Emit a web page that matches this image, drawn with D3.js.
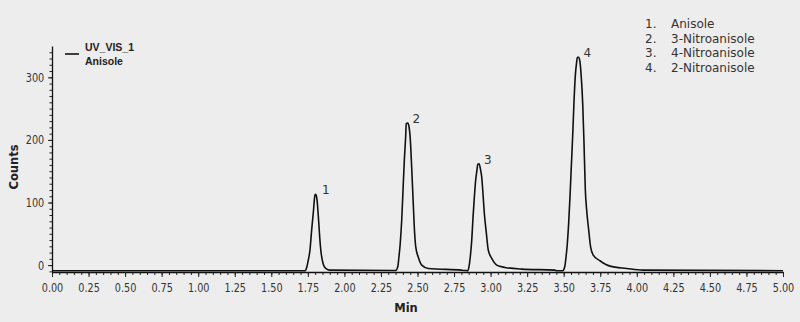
<!DOCTYPE html>
<html>
<head>
<meta charset="utf-8">
<script src="https://cdn.jsdelivr.net/npm/d3@7/dist/d3.min.js"></script>
<style>
    body { margin: 0; background: #ededed; }
    svg { display: block; }
</style>
</head>
<body>
<div id="chart"></div>
<script>
// chromatogram trace (time in min, signal in counts)
let traceTime = [
    0.000, 1.700, 1.730, 1.742, 1.753, 1.765, 1.776, 1.787, 1.799, 1.804,
    1.813, 1.822, 1.831, 1.840, 1.854, 1.872, 1.902, 2.330,
    2.351, 2.365, 2.373, 2.382, 2.392, 2.401, 2.410, 2.419, 2.423,
    2.433, 2.442, 2.451, 2.460, 2.469, 2.478, 2.488, 2.505, 2.529, 2.574, 2.800,
    2.825, 2.843, 2.852, 2.861, 2.871, 2.880, 2.889, 2.898, 2.907, 2.912,
    2.921, 2.930, 2.939, 2.948, 2.957, 2.971, 2.984, 3.008, 3.042, 3.099, 3.213, 3.440,
    3.452, 3.493, 3.507, 3.516, 3.525, 3.534, 3.543, 3.552, 3.562, 3.571, 3.579, 3.589, 3.593,
    3.602, 3.611, 3.620, 3.630, 3.639, 3.648, 3.657, 3.671, 3.684, 3.702, 3.748, 3.817, 3.931,
    4.040, 5.000
];
let traceCounts = [
    -9, -9, -9, -3.7, 8, 25, 56, 83, 112, 113,
    104, 77, 45, 21, 2.7, -5.3, -8, -8.5,
    -8.5, -2.7, 13, 35, 72, 120, 168, 205, 226, 227,
    221, 200, 157, 109, 61, 29, 13, 0, -5.3, -8, -8.5,
    -9, -2.7, 13, 40, 77, 109, 136, 152, 161, 162,
    154, 141, 114, 83, 51, 24, 10.7, 0, -3.7, -6.4, -8, -9,
    -9, -2.7, 13, 35, 67, 109, 157, 210, 264, 301, 325, 332, 332,
    325, 301, 258, 194, 120, 88, 56, 29, 16, 7, -1.6, -5.3, -8,
    -9, -9
];

// peak numbers and their apexes
let peakNames = ["1", "2", "3", "4"];
let peakTimes = [1.804, 2.423, 2.912, 3.593];
let peakCounts = [113, 227, 162, 332];

// compound list in the corner
let compounds = ["Anisole", "3-Nitroanisole", "4-Nitroanisole", "2-Nitroanisole"];

// axis ticks
let xTicks = [0, 0.25, 0.5, 0.75, 1, 1.25, 1.5, 1.75, 2, 2.25, 2.5, 2.75, 3, 3.25, 3.5, 3.75, 4, 4.25, 4.5, 4.75, 5];
let yTicks = [0, 100, 200, 300];

let width = 800, height = 322;
let svg = d3.select("#chart").append("svg")
    .attr("width", width)
    .attr("height", height);

svg.append("rect")
    .attr("width", width)
    .attr("height", height)
    .style("fill", "#ededed");

let xScale = d3.scaleLinear().domain([0, 5]).range([52, 783]);
let yScale = d3.scaleLinear().domain([-11, 350]).range([272, 46]);

let tickFont = "'DejaVu Sans Condensed', 'DejaVu Sans', sans-serif";

// minor ticks first (drawn by axes with no labels)
let xMinor = d3.range(0, 5.001, 0.05);
svg.append("g")
    .attr("transform", "translate(0,272)")
    .call(d3.axisBottom(xScale).tickValues(xMinor).tickSize(3).tickFormat(""))
    .call(g => g.select(".domain").remove())
    .selectAll("line").style("stroke", "#222");

let yMinor = d3.range(-10, 350, 10);
svg.append("g")
    .attr("transform", "translate(52,0)")
    .call(d3.axisLeft(yScale).tickValues(yMinor).tickSize(2.5).tickFormat(""))
    .call(g => g.select(".domain").remove())
    .selectAll("line").style("stroke", "#222");

// main axes
let xAxis = svg.append("g")
    .attr("transform", "translate(0,272)")
    .call(d3.axisBottom(xScale).tickValues(xTicks).tickSize(5).tickSizeOuter(0).tickPadding(6)
        .tickFormat(d3.format(".2f")));
xAxis.select(".domain").style("stroke", "#111").style("stroke-width", 1.3);
xAxis.selectAll("line").style("stroke", "#222");
xAxis.selectAll("text")
    .style("font-family", tickFont)
    .style("font-size", "12.5px")
    .style("fill", "#333")
    .attr("transform", "scale(0.86,1)");

let yAxis = svg.append("g")
    .attr("transform", "translate(52,0)")
    .call(d3.axisLeft(yScale).tickValues(yTicks).tickSize(4).tickSizeOuter(0).tickPadding(5));
yAxis.select(".domain").style("stroke", "#111").style("stroke-width", 1.3);
yAxis.selectAll("line").style("stroke", "#222");
yAxis.selectAll("text")
    .style("font-family", tickFont)
    .style("font-size", "12.5px")
    .style("fill", "#333")
    .attr("transform", "scale(0.86,1)");

// axis titles
svg.append("text")
    .text("Min")
    .attr("x", 406)
    .attr("y", 312)
    .attr("text-anchor", "middle")
    .style("font-family", "'DejaVu Sans', sans-serif")
    .style("font-weight", "bold")
    .style("font-size", "11.5px")
    .style("fill", "#222");

svg.append("text")
    .text("Counts")
    .attr("text-anchor", "middle")
    .attr("transform", "translate(18,167) rotate(-90)")
    .style("font-family", "'DejaVu Sans', sans-serif")
    .style("font-weight", "bold")
    .style("font-size", "11.5px")
    .style("fill", "#222");

// the trace
let trace = traceTime.map((t, i) => [t, traceCounts[i]]);
let line = d3.line()
    .x(d => xScale(d[0]))
    .y(d => yScale(d[1]))
    .curve(d3.curveMonotoneX);

svg.append("path")
    .datum(trace)
    .attr("d", line)
    .style("fill", "none")
    .style("stroke", "#111")
    .style("stroke-width", 1.6)
    .style("stroke-linejoin", "round");

// peak numbers
svg.selectAll(".peakLabel")
    .data(peakNames)
    .enter()
    .append("text")
    .attr("class", "peakLabel")
    .text(d => d)
    .attr("x", (d, i) => xScale(peakTimes[i]) + 10)
    .attr("y", (d, i) => yScale(peakCounts[i]))
    .attr("text-anchor", "middle")
    .style("font-family", "'DejaVu Sans', sans-serif")
    .style("font-size", "12px")
    .style("fill", "#333");

// trace legend, top left
svg.append("line")
    .attr("x1", 65).attr("x2", 79)
    .attr("y1", 54).attr("y2", 54)
    .style("stroke", "#111")
    .style("stroke-width", 1.6);
svg.append("text")
    .text("UV_VIS_1")
    .attr("x", 85).attr("y", 51)
    .style("font-family", "'Liberation Sans', Arial, sans-serif")
    .style("font-weight", "bold")
    .style("font-size", "10.5px")
    .style("fill", "#222");
svg.append("text")
    .text("Anisole")
    .attr("x", 85).attr("y", 64.5)
    .style("font-family", "'Liberation Sans', Arial, sans-serif")
    .style("font-weight", "bold")
    .style("font-size", "10.5px")
    .style("fill", "#222");

// compound list, top right
let list = svg.selectAll(".compound")
    .data(compounds)
    .enter()
    .append("g")
    .attr("class", "compound")
    .attr("transform", (d, i) => "translate(0," + (28 + i * 14.5) + ")");
list.append("text")
    .text((d, i) => (i + 1) + ".")
    .attr("x", 645)
    .style("font-family", "'DejaVu Sans', sans-serif")
    .style("font-size", "12px")
    .style("fill", "#333");
list.append("text")
    .text(d => d)
    .attr("x", 671)
    .style("font-family", "'DejaVu Sans', sans-serif")
    .style("font-size", "12px")
    .style("fill", "#333");
</script>
</body>
</html>
